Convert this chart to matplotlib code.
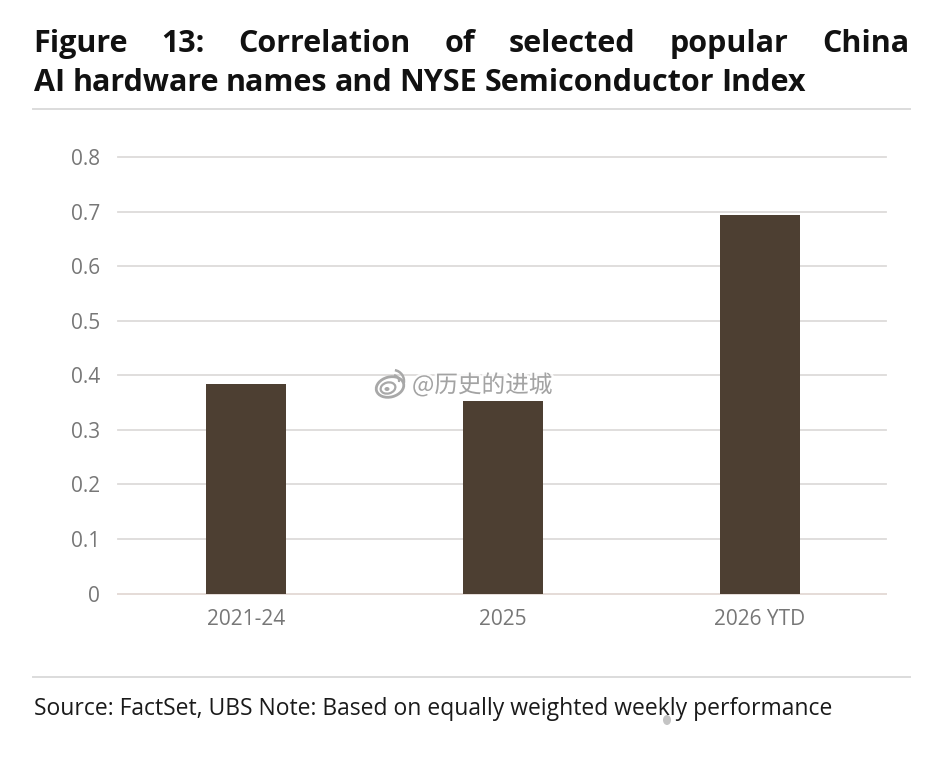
import matplotlib
matplotlib.use('Agg')
import matplotlib.pyplot as plt
import matplotlib.patheffects as pe
from matplotlib.patches import Ellipse, Arc

W, H = 930, 766

categories = ['2021-24', '2025', '2026 YTD']
correlation = [0.384, 0.353, 0.694]
y_ticks = [0, 0.1, 0.2, 0.3, 0.4, 0.5, 0.6, 0.7, 0.8]
y_labels = ['0', '0.1', '0.2', '0.3', '0.4', '0.5', '0.6', '0.7', '0.8']
title_lines = ['Figure 13: Correlation of selected popular China',
               'AI hardware names and NYSE Semiconductor Index']
source = 'Source: FactSet, UBS Note: Based on equally weighted weekly performance'
handle = '@历史的进城'

fig = plt.figure(figsize=(W / 100, H / 100), dpi=100, facecolor='white')

# pixel helper, origin top left
def fx(x):
    return x / W
def fy(y):
    return 1 - y / H

ax = fig.add_axes([fx(118), fy(593.5), 768 / W, 436.5 / H])
ax.set_xlim(-0.498, 2.49)
ax.set_ylim(0, 0.8)
ax.set_axisbelow(True)
ax.yaxis.grid(True, color='#dddbda', lw=1.3, clip_on=False)
ax.bar(range(3), correlation, width=0.31, color='#4d3f32', zorder=3)
ax.set_xticks(range(3), categories)
ax.set_yticks(y_ticks, y_labels)
ax.tick_params(length=0, labelcolor='#777777', labelsize=15)
ax.tick_params(axis='x', pad=11)
ax.tick_params(axis='y', pad=13)
for s in ['top', 'right', 'left']:
    ax.spines[s].set_visible(False)
ax.spines['bottom'].set_color('#e6dcd8')
ax.spines['bottom'].set_linewidth(1.3)
for lab in ax.get_xticklabels() + ax.get_yticklabels():
    lab.set_family('Open Sans')

# title, first line justified across the full width
def put_title(line, y, x0, x1=None):
    words = line.split(' ')
    r = fig.canvas.get_renderer()
    items = [fig.text(fx(x0), fy(y), w, family='Open Sans', fontweight='bold',
                      fontsize=22, color='#111111', va='baseline') for w in words]
    widths = [t.get_window_extent(r).width for t in items]
    space = 7.2
    if x1 is not None:
        space = (x1 - x0 - sum(widths)) / (len(words) - 1)
    x = x0
    for t, w in zip(items, widths):
        t.set_x(fx(x))
        x += w + space

put_title(title_lines[0], 52, 33, 909)
put_title(title_lines[1], 91, 34)

# rules above and below the plot
fig.add_artist(plt.Line2D([fx(33), fx(910)], [fy(108.5)] * 2, color='#dcdcdc', lw=1.4))
fig.add_artist(plt.Line2D([fx(33), fx(910)], [fy(676.5)] * 2, color='#dcdcdc', lw=1.4))

fig.text(fx(34), fy(715), source, family='Open Sans', fontsize=16.45,
         color='#1a1a1a', va='baseline')

# weibo handle over the bars
halo = [pe.withStroke(linewidth=3.5, foreground='white', alpha=0.85)]
fig.text(fx(412), fy(385), handle, family=['Noto Sans CJK SC', 'DejaVu Sans'],
         fontsize=17, color='#a3a3a3', va='center', path_effects=halo, zorder=10)

overlay = fig.add_axes([0, 0, 1, 1], facecolor='none')
overlay.set_xlim(0, W)
overlay.set_ylim(H, 0)
overlay.axis('off')
overlay.add_patch(Ellipse((390, 387), 28, 20, angle=-15, fc='white', ec='#a8a8a8', lw=2, zorder=9))
overlay.add_patch(Ellipse((388, 388), 15, 11, angle=-15, fc='white', ec='#a8a8a8', lw=1.6, zorder=10))
overlay.add_patch(Ellipse((387, 389), 5, 4, fc='#a8a8a8', ec='none', zorder=11))
overlay.add_patch(Arc((393, 381), 22, 22, theta1=-80, theta2=10, ec='#a8a8a8', lw=1.8, zorder=9))
overlay.add_patch(Arc((393, 381), 12, 12, theta1=-80, theta2=10, ec='#a8a8a8', lw=1.5, zorder=9))
# leftover smudge of a second handle under the source line
overlay.add_patch(Ellipse((667, 720), 8, 10, fc='#c4c4c4', ec='none', zorder=9))

fig.savefig('out.png', dpi=100)
